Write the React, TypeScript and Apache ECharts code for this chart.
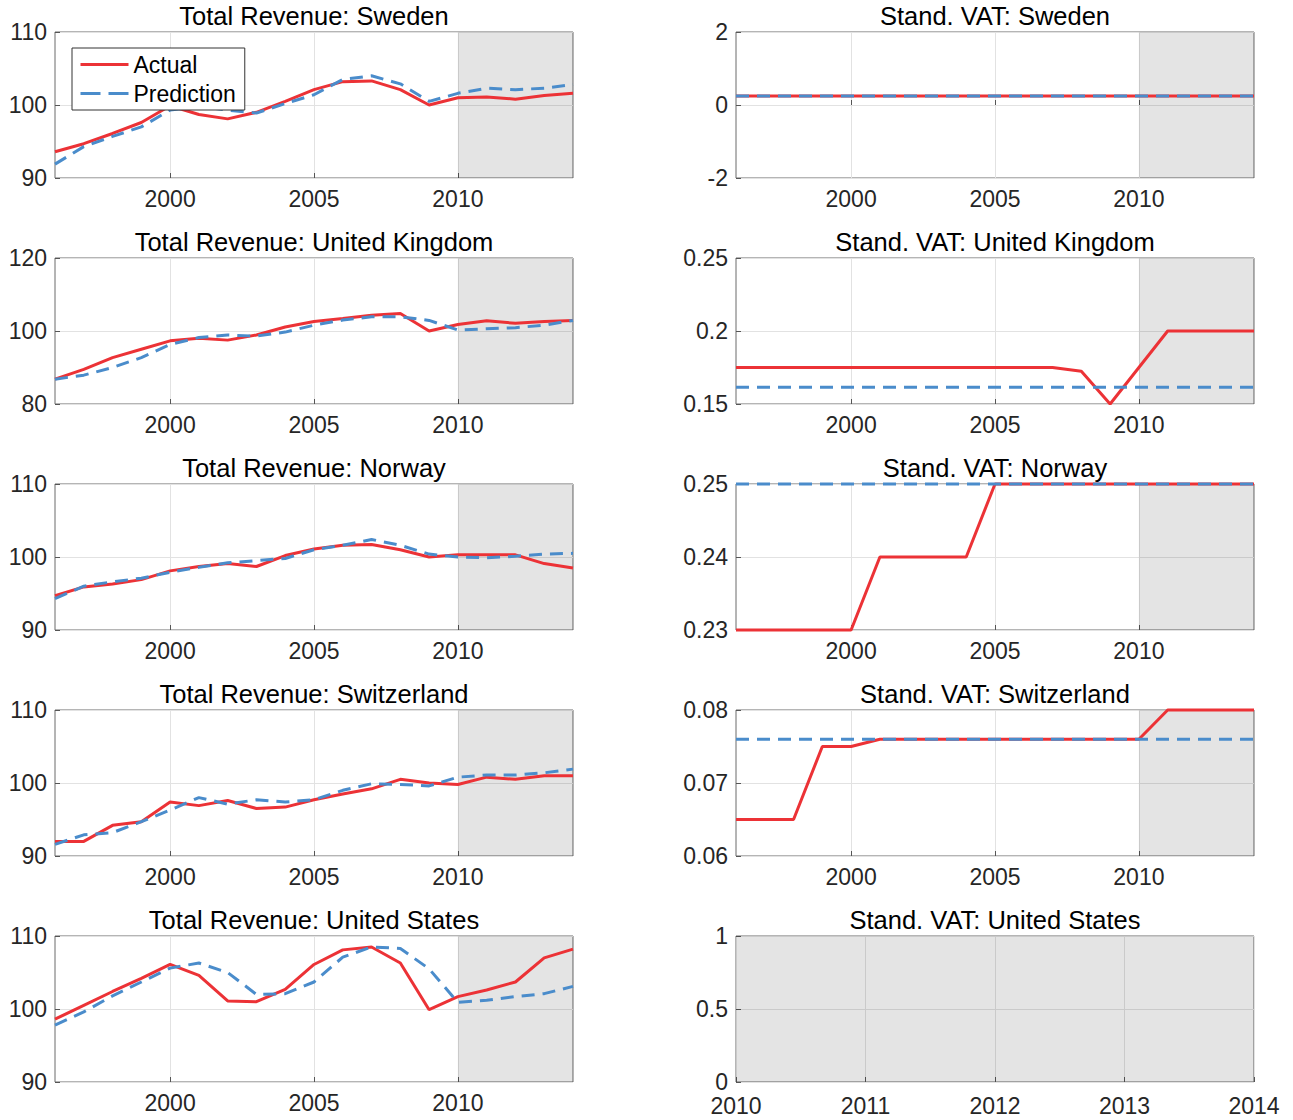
import React, { useEffect, useRef } from "react";
import * as echarts from "echarts";

const years = [1996, 1997, 1998, 1999, 2000, 2001, 2002, 2003, 2004, 2005, 2006, 2007, 2008, 2009, 2010, 2011, 2012, 2013, 2014];

const revSwedenActual = [93.6, 94.7, 96.1, 97.6, 99.9, 98.7, 98.1, 99.0, 100.5, 102.1, 103.2, 103.3, 102.1, 100.0, 101.0, 101.1, 100.8, 101.3, 101.6];
const revSwedenPred = [91.9, 94.3, 95.7, 97.0, 99.3, 99.8, 99.3, 98.9, 100.2, 101.4, 103.5, 104.0, 102.9, 100.5, 101.6, 102.3, 102.1, 102.3, 102.8];

const revUKActual = [86.8, 89.5, 92.7, 95.0, 97.3, 98.0, 97.5, 98.9, 101.1, 102.6, 103.4, 104.3, 104.8, 100.0, 101.8, 102.8, 102.1, 102.6, 102.9];
const revUKPred = [86.8, 87.9, 90.0, 92.7, 96.3, 98.2, 98.9, 98.6, 99.7, 101.6, 103.0, 103.9, 103.9, 102.9, 100.3, 100.6, 100.9, 101.6, 102.9];

const revNorwayActual = [94.7, 95.9, 96.3, 96.9, 98.1, 98.7, 99.1, 98.7, 100.2, 101.1, 101.6, 101.7, 101.0, 100.0, 100.3, 100.3, 100.3, 99.1, 98.5];
const revNorwayPred = [94.3, 96.0, 96.6, 97.1, 97.9, 98.6, 99.2, 99.5, 99.8, 101.0, 101.6, 102.4, 101.6, 100.4, 100.0, 99.9, 100.1, 100.4, 100.5];

const revSwitzActual = [92.0, 92.0, 94.2, 94.7, 97.4, 96.9, 97.6, 96.5, 96.7, 97.7, 98.5, 99.2, 100.5, 100.0, 99.8, 100.8, 100.5, 101.0, 101.0];
const revSwitzPred = [91.6, 92.9, 93.2, 94.7, 96.3, 98.0, 97.1, 97.7, 97.4, 97.7, 99.0, 99.9, 99.8, 99.6, 100.8, 101.1, 101.1, 101.4, 101.9];

const revUSActual = [98.6, 100.5, 102.4, 104.2, 106.1, 104.6, 101.1, 101.0, 102.7, 106.1, 108.1, 108.5, 106.3, 99.9, 101.7, 102.6, 103.7, 107.0, 108.2];
const revUSPred = [97.8, 99.6, 101.8, 103.7, 105.6, 106.3, 105.0, 102.0, 102.1, 103.7, 107.1, 108.5, 108.3, 105.5, 100.9, 101.2, 101.7, 102.1, 103.1];

const vatSwedenActual = [0.25, 0.25, 0.25, 0.25, 0.25, 0.25, 0.25, 0.25, 0.25, 0.25, 0.25, 0.25, 0.25, 0.25, 0.25, 0.25, 0.25, 0.25, 0.25];
const vatSwedenPred = [0.25, 0.25, 0.25, 0.25, 0.25, 0.25, 0.25, 0.25, 0.25, 0.25, 0.25, 0.25, 0.25, 0.25, 0.25, 0.25, 0.25, 0.25, 0.25];

const vatUKActual = [0.175, 0.175, 0.175, 0.175, 0.175, 0.175, 0.175, 0.175, 0.175, 0.175, 0.175, 0.175, 0.1725, 0.15, 0.175, 0.2, 0.2, 0.2, 0.2];
const vatUKPred = [0.1615, 0.1615, 0.1615, 0.1615, 0.1615, 0.1615, 0.1615, 0.1615, 0.1615, 0.1615, 0.1615, 0.1615, 0.1615, 0.1615, 0.1615, 0.1615, 0.1615, 0.1615, 0.1615];

const vatNorwayActual = [0.23, 0.23, 0.23, 0.23, 0.23, 0.24, 0.24, 0.24, 0.24, 0.25, 0.25, 0.25, 0.25, 0.25, 0.25, 0.25, 0.25, 0.25, 0.25];
const vatNorwayPred = [0.25, 0.25, 0.25, 0.25, 0.25, 0.25, 0.25, 0.25, 0.25, 0.25, 0.25, 0.25, 0.25, 0.25, 0.25, 0.25, 0.25, 0.25, 0.25];

const vatSwitzActual = [0.065, 0.065, 0.065, 0.075, 0.075, 0.076, 0.076, 0.076, 0.076, 0.076, 0.076, 0.076, 0.076, 0.076, 0.076, 0.08, 0.08, 0.08, 0.08];
const vatSwitzPred = [0.076, 0.076, 0.076, 0.076, 0.076, 0.076, 0.076, 0.076, 0.076, 0.076, 0.076, 0.076, 0.076, 0.076, 0.076, 0.076, 0.076, 0.076, 0.076];

const yearTicks = [2000, 2005, 2010];
const forecastStart = 2010;
const forecastEnd = 2014;

const FONT = '"Liberation Sans", Arial, Helvetica, sans-serif';
const RED = "#EC3236";
const BLUE = "#4A8CCB";

type Panel = {
  title: string;
  col: number;
  row: number;
  xMin: number;
  xMax: number;
  xInterval?: number;
  xCustom?: number[];
  yMin: number;
  yMax: number;
  yInterval: number;
  actual: number[] | null;
  pred: number[] | null;
};

const panels: Panel[] = [
  { title: "Total Revenue: Sweden", col: 0, row: 0, xMin: 1996, xMax: 2014, xCustom: yearTicks, yMin: 90, yMax: 110, yInterval: 10, actual: revSwedenActual, pred: revSwedenPred },
  { title: "Stand. VAT: Sweden", col: 1, row: 0, xMin: 1996, xMax: 2014, xCustom: yearTicks, yMin: -2, yMax: 2, yInterval: 2, actual: vatSwedenActual, pred: vatSwedenPred },
  { title: "Total Revenue: United Kingdom", col: 0, row: 1, xMin: 1996, xMax: 2014, xCustom: yearTicks, yMin: 80, yMax: 120, yInterval: 20, actual: revUKActual, pred: revUKPred },
  { title: "Stand. VAT: United Kingdom", col: 1, row: 1, xMin: 1996, xMax: 2014, xCustom: yearTicks, yMin: 0.15, yMax: 0.25, yInterval: 0.05, actual: vatUKActual, pred: vatUKPred },
  { title: "Total Revenue: Norway", col: 0, row: 2, xMin: 1996, xMax: 2014, xCustom: yearTicks, yMin: 90, yMax: 110, yInterval: 10, actual: revNorwayActual, pred: revNorwayPred },
  { title: "Stand. VAT: Norway", col: 1, row: 2, xMin: 1996, xMax: 2014, xCustom: yearTicks, yMin: 0.23, yMax: 0.25, yInterval: 0.01, actual: vatNorwayActual, pred: vatNorwayPred },
  { title: "Total Revenue: Switzerland", col: 0, row: 3, xMin: 1996, xMax: 2014, xCustom: yearTicks, yMin: 90, yMax: 110, yInterval: 10, actual: revSwitzActual, pred: revSwitzPred },
  { title: "Stand. VAT: Switzerland", col: 1, row: 3, xMin: 1996, xMax: 2014, xCustom: yearTicks, yMin: 0.06, yMax: 0.08, yInterval: 0.01, actual: vatSwitzActual, pred: vatSwitzPred },
  { title: "Total Revenue: United States", col: 0, row: 4, xMin: 1996, xMax: 2014, xCustom: yearTicks, yMin: 90, yMax: 110, yInterval: 10, actual: revUSActual, pred: revUSPred },
  { title: "Stand. VAT: United States", col: 1, row: 4, xMin: 2010, xMax: 2014, xInterval: 1, yMin: 0, yMax: 1, yInterval: 0.5, actual: null, pred: null },
];

const GRID_LEFT = [55, 736];
const GRID_WIDTH = 518;
const GRID_TOP = [32, 258, 484, 710, 936];
const GRID_HEIGHT = 146;

function fmtNum(v: number): string {
  const r = Math.round(v * 10000) / 10000;
  return String(r);
}

function buildOption() {
  const grids: any[] = [];
  const xAxes: any[] = [];
  const yAxes: any[] = [];
  const series: any[] = [];
  const titles: any[] = [];

  panels.forEach((p, i) => {
    const left = GRID_LEFT[p.col];
    const top = GRID_TOP[p.row];
    const cornerPanel = !p.xCustom;
    grids.push({
      left,
      top,
      width: GRID_WIDTH,
      height: GRID_HEIGHT,
      show: true,
      borderColor: "#6b6b6b",
      borderWidth: 1,
      backgroundColor: "#ffffff",
      containLabel: false,
    });
    titles.push({
      text: p.title,
      left: left + GRID_WIDTH / 2,
      top: top - 29,
      textAlign: "center",
      padding: 0,
      textStyle: { fontFamily: FONT, fontSize: 25.5, fontWeight: "normal", color: "#000000" },
    });
    const xAxis: any = {
      type: "value",
      gridIndex: i,
      min: p.xMin,
      max: p.xMax,
      axisLine: { show: false },
      axisTick: { show: true, inside: true, length: 5, lineStyle: { color: "#555555" } },
      axisLabel: {
        show: true,
        margin: cornerPanel ? 14 : 11,
        fontFamily: FONT,
        fontSize: 23,
        lineHeight: 20,
        color: "#262626",
        formatter: (v: number) => String(Math.round(v)),
        showMinLabel: true,
        showMaxLabel: true,
      },
      splitLine: { show: true, lineStyle: { color: "#e2e2e2", width: 1 } },
    };
    if (p.xCustom) {
      xAxis.axisTick.customValues = p.xCustom;
      xAxis.axisLabel.customValues = p.xCustom;
    } else {
      xAxis.interval = p.xInterval;
    }
    xAxes.push(xAxis);
    yAxes.push({
      type: "value",
      gridIndex: i,
      min: p.yMin,
      max: p.yMax,
      interval: p.yInterval,
      axisLine: { show: false },
      axisTick: { show: true, inside: true, length: 5, lineStyle: { color: "#555555" } },
      axisLabel: {
        margin: 8,
        fontFamily: FONT,
        fontSize: 23,
        lineHeight: 18,
        padding: cornerPanel ? [0, 0, 5, 0] : 0,
        color: "#262626",
        formatter: (v: number) => fmtNum(v),
        showMinLabel: true,
        showMaxLabel: true,
      },
      splitLine: { show: true, lineStyle: { color: "#e2e2e2", width: 1 } },
    });

    const shade = {
      silent: true,
      itemStyle: { color: "rgba(0,0,0,0.105)" },
      data: [[{ xAxis: forecastStart }, { xAxis: forecastEnd }]],
    };

    if (p.actual && p.pred) {
      series.push({
        name: "Actual",
        type: "line",
        xAxisIndex: i,
        yAxisIndex: i,
        data: years.map((y, k) => [y, p.actual![k]]),
        symbol: "circle",
        symbolSize: 0,
        showSymbol: false,
        clip: false,
        lineStyle: { color: RED, width: 3 },
        itemStyle: { color: RED },
        markArea: shade,
        z: 3,
      });
      series.push({
        name: "Prediction",
        type: "line",
        xAxisIndex: i,
        yAxisIndex: i,
        data: years.map((y, k) => [y, p.pred![k]]),
        symbol: "circle",
        symbolSize: 0,
        showSymbol: false,
        clip: false,
        lineStyle: { color: BLUE, width: 3, type: [13, 8] },
        itemStyle: { color: BLUE },
        z: 4,
      });
    } else {
      series.push({
        name: "shade",
        type: "line",
        xAxisIndex: i,
        yAxisIndex: i,
        data: [],
        symbol: "none",
        markArea: shade,
      });
    }
  });

  return {
    animation: false,
    backgroundColor: "#ffffff",
    textStyle: { fontFamily: FONT },
    title: titles,
    grid: grids,
    xAxis: xAxes,
    yAxis: yAxes,
    legend: {
      data: [
        { name: "Actual" },
        { name: "Prediction", lineStyle: { type: [20, 8] } },
      ],
      orient: "vertical",
      left: 72,
      top: 48,
      itemWidth: 48,
      itemHeight: 14,
      itemGap: 6,
      padding: [5, 9, 5, 7],
      borderColor: "#333333",
      borderWidth: 1,
      backgroundColor: "#ffffff",
      selectedMode: false,
      itemStyle: { opacity: 0 },
      lineStyle: { width: 3 },
      textStyle: { fontFamily: FONT, fontSize: 23, color: "#000000" },
      z: 10,
    },
    series,
  };
}

export default function App() {
  const ref = useRef<HTMLDivElement>(null);
  useEffect(() => {
    if (!ref.current) return;
    const chart = echarts.init(ref.current, undefined, { renderer: "svg" });
    chart.setOption(buildOption() as any);
    return () => chart.dispose();
  }, []);
  return (
    <div
      ref={ref}
      style={{ position: "absolute", left: 0, top: 0, width: 1293, height: 1120, background: "#ffffff" }}
    />
  );
}
